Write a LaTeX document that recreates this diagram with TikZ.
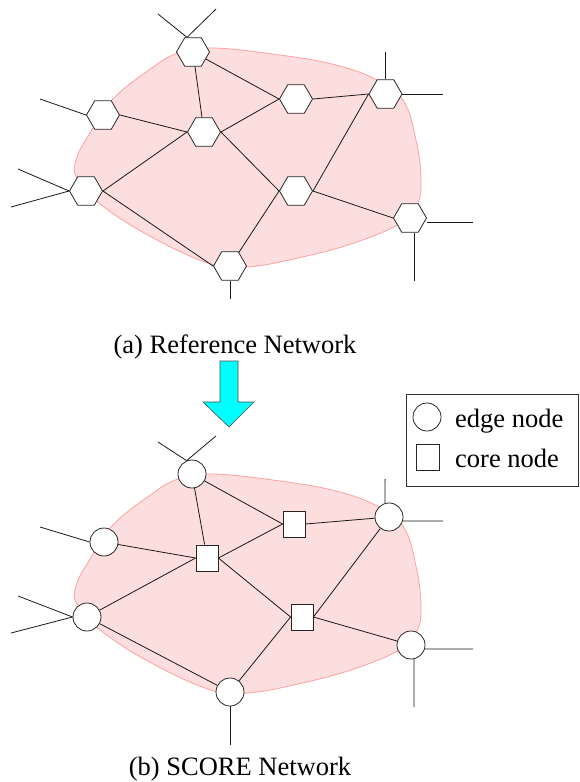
\documentclass[tikz,border=0pt]{standalone}
\usepackage{fontspec}
\setmainfont{Liberation Serif}
\usetikzlibrary{shapes.geometric}
\definecolor{blobfill}{RGB}{253,222,222}
\definecolor{blobline}{RGB}{255,160,160}
\definecolor{arrowfill}{RGB}{0,255,255}
\begin{document}
\begin{tikzpicture}[x=1pt,y=-1pt,
  hexnode/.style={regular polygon, regular polygon sides=6, minimum size=33pt, inner sep=0pt, draw=black!85, fill=white, line width=0.8pt},
  edgenode/.style={circle, minimum size=28pt, inner sep=0pt, draw=black!85, fill=white, line width=0.8pt},
  corenode/.style={rectangle, minimum width=22pt, minimum height=26pt, inner sep=0pt, draw=black!85, fill=white, line width=0.8pt},
  link/.style={draw=black!90, line width=0.8pt},
  blob/.style={fill=blobfill, draw=blobline, line width=0.8pt},
  txt/.style={font=\fontsize{26.5}{30}\selectfont, inner sep=0pt}
]
\useasboundingbox (0,0) rectangle (579,782);

% ---------- blobs ----------
\path[blob] plot[smooth cycle, tension=0.7] coordinates {
  (178,53) (213,48) (280,55) (336,65) (377,80) (403,100) (416,140) (421,180)
  (417,205) (401,223) (354,243) (298,258) (248,267) (214,265) (157,240)
  (104,207) (78,180) (76,160) (90,133) (112,100) (149,70)};
\path[blob, yshift=-426pt] plot[smooth cycle, tension=0.7] coordinates {
  (178,53) (213,48) (280,55) (336,65) (377,80) (403,100) (416,140) (421,180)
  (417,205) (401,223) (354,243) (298,258) (248,267) (214,265) (157,240)
  (104,207) (78,180) (76,160) (90,133) (112,100) (149,70)};

% ---------- (a) reference network ----------
\node[hexnode] (h1) at (193,52) {};
\node[hexnode] (h2) at (103,115) {};
\node[hexnode] (h3) at (204,132) {};
\node[hexnode] (h4) at (86,191) {};
\node[hexnode] (h5) at (230,266) {};
\node[hexnode] (h6) at (296,99) {};
\node[hexnode] (h7) at (385.5,94) {};
\node[hexnode] (h8) at (296,191) {};
\node[hexnode] (h9) at (410,218) {};

\draw[link] (h1) -- (h3);
\draw[link] (h1) -- (h6.west);
\draw[link] (h2.east) -- (h3.west);
\draw[link] (h3.east) -- (h6.west);
\draw[link] (h4.east) -- (h3.west);
\draw[link] (h3.east) -- (h8.west);
\draw[link] (h4.east) -- (h5.west);
\draw[link] (h5) -- (h8.west);
\draw[link] (h6.east) -- (h7.west);
\draw[link] (h7.west) -- (h8.east);
\draw[link] (h8.east) -- (h9.west);

\coordinate (h1a) at (158,14);
\coordinate (h1b) at (216,9);
\coordinate (h2a) at (40,99);
\coordinate (h4a) at (18,169);
\coordinate (h4b) at (11,207);
\coordinate (h5a) at (230,299);
\coordinate (h7a) at (385.5,52);
\coordinate (h7b) at (443,94);
\coordinate (h9a) at (473,222);
\coordinate (h9b) at (414,281);

\draw[link] ([xshift=-6pt]h1.north) -- (h1a);
\draw[link] ([xshift=-6pt]h1.north) -- (h1b);
\draw[link] (h2.west) -- (h2a);
\draw[link] (h4.west) -- (h4a);
\draw[link] (h4.west) -- (h4b);
\draw[link] (h5.south) -- (h5a);
\draw[link] (h7.north) -- (h7a);
\draw[link] (h7.east) -- (h7b);
\draw[link] ([yshift=-4pt]h9.east) -- (h9a);
\draw[link] ([xshift=4pt]h9.south) -- (h9b);

\node[txt, anchor=base] (capa) at (235,353) {(a) Reference Network};

% ---------- arrow ----------
\draw[fill=arrowfill, draw=black!70, line width=0.6pt]
  (220,361) -- (238,361) -- (238,402) -- (254,402) -- (229,427) -- (203,402) -- (220,402) -- cycle;

% ---------- legend ----------
\node[draw=black!80, line width=0.8pt, minimum width=172pt, minimum height=92pt, inner sep=0pt] (legend) at (492.2,440) {};
\node[edgenode] (lc) at (427,417) {};
\node[corenode, minimum width=23pt] (ls) at (427.5,457) {};
\node[txt, anchor=base west] (lct) at (455,427) {edge node};
\node[txt, anchor=base west] (lst) at (455,467) {core node};

% ---------- (b) SCORE network ----------
\node[edgenode] (c1) at (192,474) {};
\node[edgenode] (c2) at (104,542) {};
\node[corenode] (s1) at (207,558) {};
\node[edgenode] (c3) at (87,617) {};
\node[edgenode] (c4) at (230,692) {};
\node[corenode] (s2) at (294,524) {};
\node[edgenode] (c5) at (389,517) {};
\node[corenode] (s3) at (302,617) {};
\node[edgenode] (c6) at (411,645) {};

\draw[link] (c1) -- (s1);
\draw[link] (c1) -- (s2.west);
\draw[link] (c2) -- (s1.west);
\draw[link] (s1.east) -- (s2.west);
\draw[link] (c3) -- (s1.west);
\draw[link] (s1.east) -- (s3.west);
\draw[link] (c3) -- (c4);
\draw[link] (c4) -- (s3.west);
\draw[link] (s2.east) -- (c5);
\draw[link] (c5) -- (s3.east);
\draw[link] (s3.east) -- (c6);

\coordinate (c1a) at (158,442);
\coordinate (c1b) at (216,436);
\coordinate (c2a) at (40,527);
\coordinate (c3a) at (18,596);
\coordinate (c3b) at (11,633);
\coordinate (c4a) at (230,745);
\coordinate (c5a) at (385.1,479);
\coordinate (c5b) at (443,521);
\coordinate (c6a) at (473,649);
\coordinate (c6b) at (414,707);

\draw[link] (c1.112) -- (c1a);
\draw[link] (c1.112) -- (c1b);
\draw[link] (c2.west) -- (c2a);
\draw[link] (c3.west) -- (c3a);
\draw[link] (c3.west) -- (c3b);
\draw[link] (c4.south) -- (c4a);
\draw[link] (c5.106) -- (c5a);
\draw[link] (c5.-16) -- (c5b);
\draw[link] (c6.-16) -- (c6a);
\draw[link] (c6.-78) -- (c6b);

\node[txt, anchor=base] (capb) at (240,775) {(b) SCORE Network};
\end{tikzpicture}
\end{document}
